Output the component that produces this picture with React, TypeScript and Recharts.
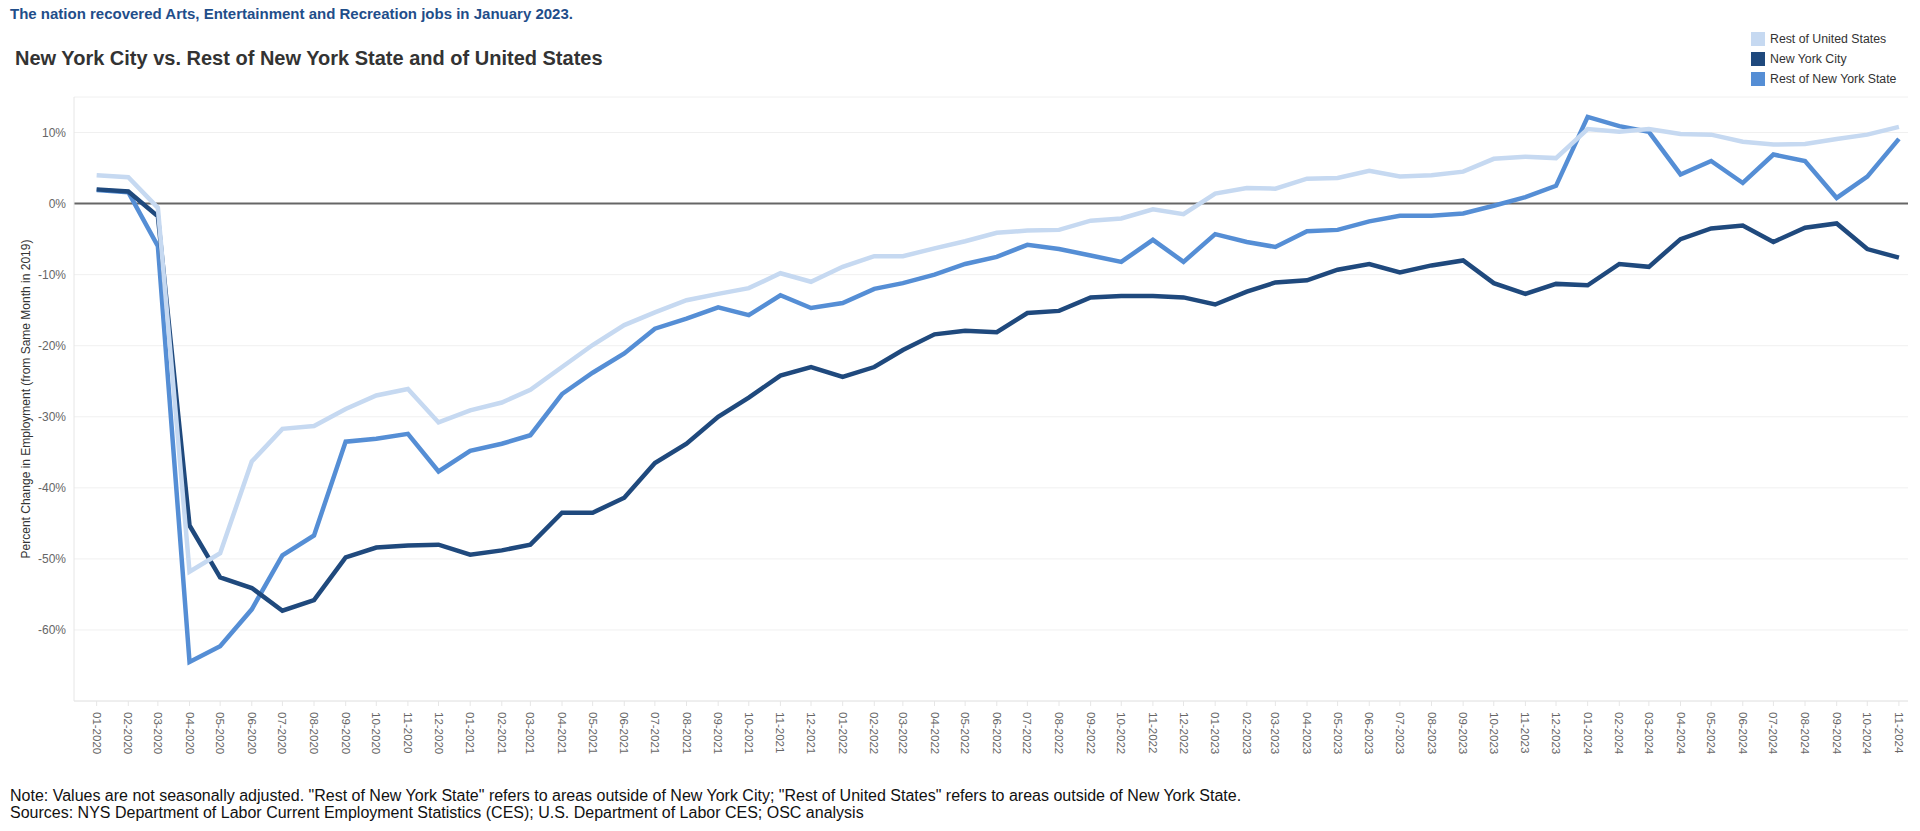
import React from "react";
import {
  LineChart,
  Line,
  XAxis,
  YAxis,
  CartesianGrid,
  ReferenceLine,
} from "recharts";

const months = [
  "01-2020", "02-2020", "03-2020", "04-2020", "05-2020", "06-2020", "07-2020", "08-2020", "09-2020", "10-2020", "11-2020", "12-2020",
  "01-2021", "02-2021", "03-2021", "04-2021", "05-2021", "06-2021", "07-2021", "08-2021", "09-2021", "10-2021", "11-2021", "12-2021",
  "01-2022", "02-2022", "03-2022", "04-2022", "05-2022", "06-2022", "07-2022", "08-2022", "09-2022", "10-2022", "11-2022", "12-2022",
  "01-2023", "02-2023", "03-2023", "04-2023", "05-2023", "06-2023", "07-2023", "08-2023", "09-2023", "10-2023", "11-2023", "12-2023",
  "01-2024", "02-2024", "03-2024", "04-2024", "05-2024", "06-2024", "07-2024", "08-2024", "09-2024", "10-2024", "11-2024",
];

const restOfUS = [
  4.0, 3.7, -0.6, -51.8, -49.2, -36.3, -31.7, -31.3, -28.9, -27.0, -26.1, -30.8,
  -29.1, -28.0, -26.2, -23.0, -19.9, -17.1, -15.3, -13.6, -12.7, -11.9, -9.8, -11.0,
  -8.9, -7.4, -7.4, -6.3, -5.3, -4.1, -3.8, -3.7, -2.4, -2.1, -0.8, -1.5,
  1.4, 2.2, 2.1, 3.5, 3.6, 4.6, 3.8, 4.0, 4.5, 6.3, 6.6, 6.4,
  10.5, 10.1, 10.5, 9.8, 9.7, 8.7, 8.3, 8.4, 9.1, 9.7, 10.8,
];

const newYorkCity = [
  2.0, 1.7, -1.8, -45.3, -52.6, -54.1, -57.3, -55.8, -49.8, -48.4, -48.1, -48.0,
  -49.4, -48.8, -48.0, -43.5, -43.5, -41.4, -36.5, -33.8, -30.0, -27.3, -24.2, -23.0,
  -24.4, -23.0, -20.6, -18.4, -17.9, -18.1, -15.4, -15.1, -13.2, -13.0, -13.0, -13.2,
  -14.2, -12.4, -11.1, -10.8, -9.3, -8.5, -9.7, -8.7, -8.0, -11.2, -12.7, -11.3,
  -11.5, -8.5, -8.9, -5.0, -3.5, -3.1, -5.4, -3.4, -2.8, -6.4, -7.6,
];

const restOfNYS = [
  1.9, 1.6, -6.0, -64.5, -62.3, -57.1, -49.5, -46.7, -33.5, -33.1, -32.4, -37.7,
  -34.8, -33.8, -32.6, -26.8, -23.8, -21.1, -17.6, -16.2, -14.6, -15.7, -12.9, -14.7,
  -14.0, -12.0, -11.2, -10.0, -8.5, -7.5, -5.8, -6.4, -7.3, -8.2, -5.1, -8.2,
  -4.3, -5.4, -6.1, -3.9, -3.7, -2.5, -1.7, -1.7, -1.4, -0.3, 0.9, 2.5,
  12.2, 10.9, 10.1, 4.1, 6.0, 2.9, 6.9, 6.0, 0.8, 3.8, 9.1,
];

const yTicks = [-60, -50, -40, -30, -20, -10, 0, 10];

const series = [
  { key: "restNYS", name: "Rest of New York State", color: "#558ed5" },
  { key: "nyc", name: "New York City", color: "#1f497d" },
  { key: "restUS", name: "Rest of United States", color: "#c6d9f1" },
];
const legendOrder = ["restUS", "nyc", "restNYS"];

const DAY = 24 * 3600 * 1000;
const toTime = (label: string) => {
  const [m, y] = label.split("-").map(Number);
  return Date.UTC(y, m - 1, 1);
};

const data = months.map((label, i) => ({
  t: toTime(label),
  label,
  restUS: restOfUS[i],
  nyc: newYorkCity[i],
  restNYS: restOfNYS[i],
}));

const tickTimes = data.map((d) => d.t);
const xDomain = [tickTimes[0] - 22.2 * DAY, tickTimes[tickTimes.length - 1] + 8.9 * DAY];

const FONT = '"Liberation Sans", Arial, sans-serif';

const fmtMonth = (t: number) => {
  const d = new Date(t);
  const m = String(d.getUTCMonth() + 1).padStart(2, "0");
  return `${m}-${d.getUTCFullYear()}`;
};

// eslint-disable-next-line @typescript-eslint/no-explicit-any
const MonthTick = ({ x, y, payload }: any) => (
  <text
    transform={`translate(${x},${y + 4}) rotate(90)`}
    textAnchor="start"
    dominantBaseline="central"
    fill="#666"
    fontSize={11.5}
    fontFamily={FONT}
  >
    {fmtMonth(payload.value)}
  </text>
);

export default function App() {
  return (
    <div
      style={{
        position: "absolute",
        left: 0,
        top: 0,
        width: 1920,
        height: 831,
        background: "#fff",
        fontFamily: FONT,
        overflow: "hidden",
      }}
    >
      <div
        style={{
          position: "absolute",
          left: 10,
          top: 5,
          fontSize: 15,
          lineHeight: "18px",
          fontWeight: 700,
          color: "#1f4e8a",
          whiteSpace: "nowrap",
        }}
      >
        The nation recovered Arts, Entertainment and Recreation jobs in January 2023.
      </div>
      <div
        style={{
          position: "absolute",
          left: 15,
          top: 47,
          fontSize: 20,
          lineHeight: "22px",
          fontWeight: 700,
          color: "#333",
          whiteSpace: "nowrap",
        }}
      >
        New York City vs. Rest of New York State and of United States
      </div>

      <div style={{ position: "absolute", left: 1751, top: 29 }}>
        {legendOrder.map((k) => {
          const s = series.find((x) => x.key === k)!;
          return (
            <div key={k} style={{ display: "flex", alignItems: "center", height: 20 }}>
              <div style={{ width: 14, height: 14, background: s.color, marginRight: 5 }} />
              <span style={{ fontSize: 12.3, color: "#333", whiteSpace: "nowrap" }}>{s.name}</span>
            </div>
          );
        })}
      </div>

      <LineChart
        width={1920}
        height={831}
        data={data}
        margin={{ top: 97, right: 12, bottom: 70, left: 0 }}
      >
        <CartesianGrid vertical={false} stroke="#f0f0f0" strokeWidth={1} />
        <XAxis
          dataKey="t"
          type="number"
          scale="time"
          domain={xDomain}
          ticks={tickTimes}
          interval={0}
          height={60}
          tick={<MonthTick />}
          tickSize={5}
          tickLine={{ stroke: "#e6e6e6" }}
          axisLine={{ stroke: "#e6e6e6" }}
          allowDataOverflow
        />
        <YAxis
          type="number"
          domain={[-70, 15]}
          ticks={yTicks}
          width={74}
          tickLine={false}
          axisLine={{ stroke: "#e6e6e6" }}
          tickFormatter={(v: number) => `${v}%`}
          tick={{ fill: "#666", fontSize: 12, fontFamily: FONT }}
          label={{
            value: "Percent Change in Employment (from Same Month in 2019)",
            angle: -90,
            position: "insideLeft",
            offset: 26,
            style: { textAnchor: "middle", fill: "#333", fontSize: 12, fontFamily: FONT },
          }}
        />
        <ReferenceLine y={0} stroke="#666" strokeWidth={2} />
        {series.map((s) => (
          <Line
            key={s.key}
            type="linear"
            dataKey={s.key}
            name={s.name}
            stroke={s.color}
            strokeWidth={4.5}
            dot={false}
            activeDot={false}
            isAnimationActive={false}
          />
        ))}
      </LineChart>

      <div
        style={{
          position: "absolute",
          left: 10,
          top: 787,
          fontSize: 16,
          lineHeight: "17px",
          color: "#111",
          whiteSpace: "nowrap",
        }}
      >
        <div>
          Note: Values are not seasonally adjusted. "Rest of New York State" refers to areas outside of New York City; "Rest of United States" refers to areas outside of New York State.
        </div>
        <div>Sources: NYS Department of Labor Current Employment Statistics (CES); U.S. Department of Labor CES; OSC analysis</div>
      </div>
    </div>
  );
}
